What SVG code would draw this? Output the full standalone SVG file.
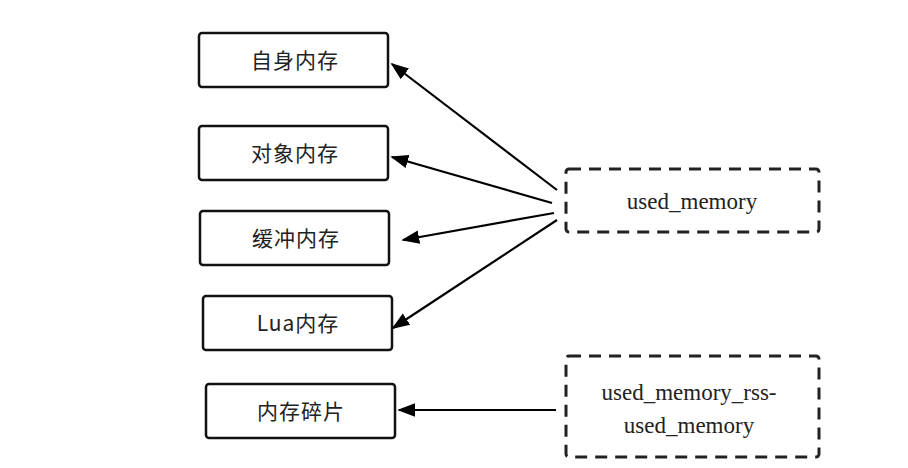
<svg xmlns="http://www.w3.org/2000/svg" width="908" height="468" viewBox="0 0 908 468">
<defs>
<marker id="ah2" viewBox="0 0 10 10" refX="9" refY="5" markerWidth="18" markerHeight="18" markerUnits="userSpaceOnUse" orient="auto">
<path d="M0,1.2 L10,5 L0,8.8 z" fill="#000"/>
</marker>
</defs>
<style>
.box{fill:#fff;stroke:#111;stroke-width:2.5}
.dbox{fill:#fff;stroke:#222;stroke-width:3;stroke-dasharray:12 8}
.cn{font-family:"Noto Sans CJK SC","Noto Sans CJK JP",sans-serif;font-size:21px;letter-spacing:1px;fill:#222;text-anchor:middle}
.en{font-family:"Liberation Serif",serif;font-size:23px;fill:#222;text-anchor:middle}
.ln{stroke:#000;stroke-width:2.2;fill:none;marker-end:url(#ah2)}
</style>
<rect width="908" height="468" fill="#fff"/>
<g id="n1"><rect class="box" x="199" y="33" width="189" height="54" rx="3"/><text class="cn" x="295" y="68">自身内存</text></g>
<g id="n2"><rect class="box" x="199" y="126" width="189" height="54" rx="3"/><text class="cn" x="295" y="161">对象内存</text></g>
<g id="n3"><rect class="box" x="200" y="211" width="189" height="54" rx="3"/><text class="cn" x="296" y="246">缓冲内存</text></g>
<g id="n4"><rect class="box" x="203" y="296" width="189" height="54" rx="3"/><text class="cn" x="298" y="331">Lua内存</text></g>
<g id="n5"><rect class="box" x="206" y="384" width="189" height="54" rx="3"/><text class="cn" x="301" y="419">内存碎片</text></g>
<g id="n6"><rect class="dbox" x="566" y="169" width="253" height="63" rx="3"/><text class="en" x="692" y="209">used_memory</text></g>
<g id="n7"><rect class="dbox" x="566" y="356" width="253" height="101" rx="3"/><text class="en" x="689" y="400">used_memory_rss-</text><text class="en" x="689" y="433">used_memory</text></g>
<g id="edges">
<line class="ln" x1="557" y1="190" x2="392" y2="64"/>
<line class="ln" x1="552" y1="203" x2="392" y2="157"/>
<line class="ln" x1="554" y1="213" x2="403" y2="240"/>
<line class="ln" x1="557" y1="220" x2="393" y2="328"/>
<line class="ln" x1="556" y1="410" x2="399" y2="410"/>
</g>
</svg>
